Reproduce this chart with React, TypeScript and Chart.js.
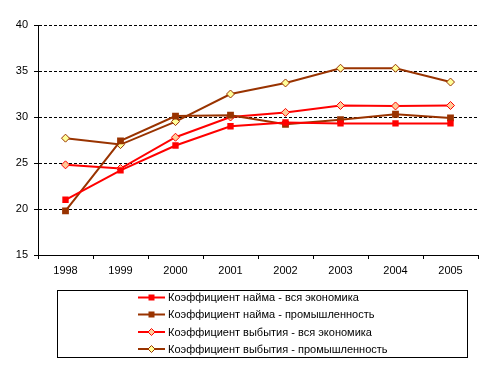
import React, { useEffect, useRef } from "react";
import { Chart, registerables } from "chart.js";

Chart.register(...registerables);

const years = ["1998", "1999", "2000", "2001", "2002", "2003", "2004", "2005"];
const hireEconomy = [21.0, 24.2, 26.9, 29.0, 29.4, 29.3, 29.3, 29.3];
const hireIndustry = [19.8, 27.4, 30.1, 30.2, 29.2, 29.7, 30.3, 29.9];
const exitEconomy = [24.8, 24.4, 27.8, 30.0, 30.5, 31.25, 31.2, 31.25];
const exitIndustry = [27.7, 27.0, 29.5, 32.5, 33.7, 35.3, 35.3, 33.8];

const seriesLabels = [
  "Коэффициент найма - вся экономика",
  "Коэффициент найма - промышленность",
  "Коэффициент выбытия - вся экономика",
  "Коэффициент выбытия - промышленность",
];

const FONT = "'Liberation Sans', Arial, sans-serif";

const boxedLegend = {
  id: "boxedLegend",
  afterDraw(chart: any) {
    const ctx = chart.ctx;
    ctx.save();
    ctx.strokeStyle = "#000";
    ctx.lineWidth = 1;
    ctx.strokeRect(57.5, 290.5, 410, 67);
    const rowY = [297.5, 314.5, 332, 349];
    chart.data.datasets.forEach((ds: any, i: number) => {
      const y = rowY[i];
      ctx.strokeStyle = ds.borderColor;
      ctx.lineWidth = 2;
      ctx.beginPath();
      ctx.moveTo(138, y);
      ctx.lineTo(165, y);
      ctx.stroke();
      ctx.fillStyle = ds.pointBackgroundColor;
      ctx.strokeStyle = ds.pointBorderColor;
      ctx.lineWidth = 1;
      const cx = 151.5;
      if (ds.pointStyle === "rect") {
        ctx.fillRect(cx - 3, y - 3, 6, 6);
      } else {
        const r = 3.5;
        ctx.beginPath();
        ctx.moveTo(cx - r, y);
        ctx.lineTo(cx, y - r);
        ctx.lineTo(cx + r, y);
        ctx.lineTo(cx, y + r);
        ctx.closePath();
        ctx.fill();
        ctx.stroke();
      }
      ctx.fillStyle = "#000";
      ctx.font = `11px ${FONT}`;
      ctx.textBaseline = "middle";
      ctx.textAlign = "left";
      ctx.fillText(ds.label, 168, y + 0.5);
    });
    ctx.restore();
  },
};

export default function App() {
  const canvasRef = useRef<HTMLCanvasElement | null>(null);

  useEffect(() => {
    if (!canvasRef.current) return;
    const RED = "#FF0000";
    const BROWN = "#993300";
    const chart = new Chart(canvasRef.current, {
      type: "line",
      data: {
        labels: years,
        datasets: [
          {
            label: seriesLabels[0],
            data: hireEconomy,
            borderColor: RED,
            backgroundColor: RED,
            pointBackgroundColor: RED,
            pointBorderColor: RED,
            pointStyle: "rect",
            pointRadius: 4.5,
            pointBorderWidth: 0,
            borderWidth: 2,
          },
          {
            label: seriesLabels[1],
            data: hireIndustry,
            borderColor: BROWN,
            backgroundColor: BROWN,
            pointBackgroundColor: BROWN,
            pointBorderColor: BROWN,
            pointStyle: "rect",
            pointRadius: 4.8,
            pointBorderWidth: 0,
            borderWidth: 2,
          },
          {
            label: seriesLabels[2],
            data: exitEconomy,
            borderColor: RED,
            backgroundColor: "#FFCC99",
            pointBackgroundColor: "#FFCC99",
            pointBorderColor: RED,
            pointStyle: "rectRot",
            pointRadius: 4,
            pointBorderWidth: 1,
            borderWidth: 2,
          },
          {
            label: seriesLabels[3],
            data: exitIndustry,
            borderColor: BROWN,
            backgroundColor: "#FFFF99",
            pointBackgroundColor: "#FFFF99",
            pointBorderColor: BROWN,
            pointStyle: "rectRot",
            pointRadius: 4,
            pointBorderWidth: 1,
            borderWidth: 2,
          },
        ] as any,
      },
      options: {
        animation: false,
        responsive: false,
        maintainAspectRatio: false,
        layout: { padding: { left: 0, top: 25, right: 15, bottom: 80 } },
        plugins: {
          legend: { display: false },
          tooltip: { enabled: false },
          title: { display: false },
        },
        elements: { line: { tension: 0 } },
        scales: {
          x: {
            offset: true,
            grid: {
              offset: true,
              drawOnChartArea: false,
              drawTicks: true,
              tickLength: 4,
              color: "#000",
            },
            border: { display: true, color: "#000", width: 1 },
            ticks: {
              color: "#000",
              font: { family: FONT, size: 11 },
              padding: 5,
              maxRotation: 0,
            },
            afterFit(scale: any) {
              scale.height = 30;
            },
          },
          y: {
            min: 15,
            max: 40,
            ticks: {
              stepSize: 5,
              color: "#000",
              font: { family: FONT, size: 11 },
              padding: 6,
            },
            grid: {
              color: "#000",
              lineWidth: 1,
              drawTicks: true,
              tickLength: 4,
              tickBorderDash: [],
              tickColor: "#000",
            },
            border: { display: true, color: "#000", width: 1, dash: [3, 2] },
            afterFit(scale: any) {
              scale.width = 38;
            },
          },
        },
      },
      plugins: [boxedLegend],
    });
    return () => chart.destroy();
  }, []);

  return (
    <div style={{ position: "absolute", left: 0, top: 0, width: 493, height: 365, background: "#fff" }}>
      <canvas ref={canvasRef} width={493} height={365} style={{ width: 493, height: 365, display: "block" }} />
    </div>
  );
}
